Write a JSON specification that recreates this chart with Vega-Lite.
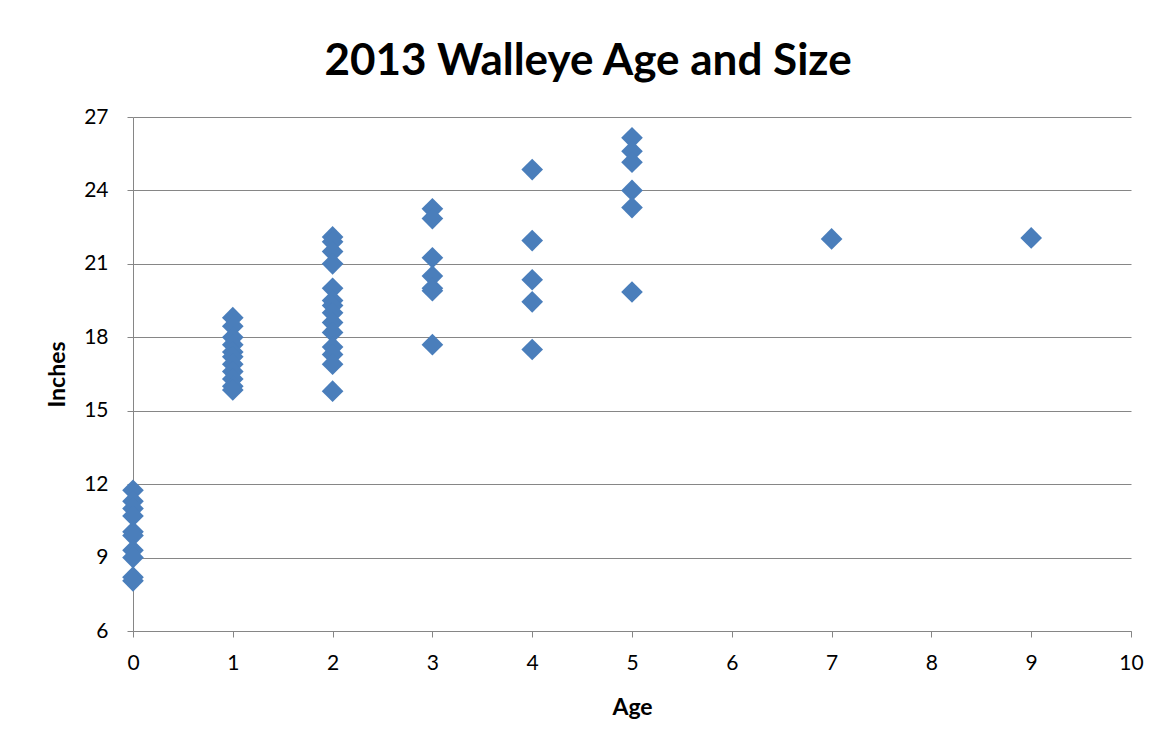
{
  "$schema": "https://vega.github.io/schema/vega-lite/v6.json",
  "width": 998,
  "height": 514,
  "autosize": {"type": "none"},
  "padding": {"left": 133, "top": 117, "right": 36, "bottom": 120},
  "background": "white",
  "title": {
    "text": "2013 Walleye Age and Size",
    "font": "Lato",
    "fontSize": 44,
    "fontWeight": "bold",
    "color": "black",
    "anchor": "middle",
    "dx": -44,
    "offset": 22
  },
  "config": {
    "view": {"stroke": null},
    "font": "Lato"
  },
  "data": {
    "values": [
      {"Age": 0, "Inches": 11.75}, {"Age": 0, "Inches": 11.3}, {"Age": 0, "Inches": 11.0}, {"Age": 0, "Inches": 10.7},
      {"Age": 0, "Inches": 10.05}, {"Age": 0, "Inches": 9.9}, {"Age": 0, "Inches": 9.3}, {"Age": 0, "Inches": 9.0},
      {"Age": 0, "Inches": 8.2}, {"Age": 0, "Inches": 8.05},
      {"Age": 1, "Inches": 18.8}, {"Age": 1, "Inches": 18.45}, {"Age": 1, "Inches": 18.0}, {"Age": 1, "Inches": 17.7},
      {"Age": 1, "Inches": 17.4}, {"Age": 1, "Inches": 17.2}, {"Age": 1, "Inches": 16.9}, {"Age": 1, "Inches": 16.6},
      {"Age": 1, "Inches": 16.3}, {"Age": 1, "Inches": 16.0}, {"Age": 1, "Inches": 15.85},
      {"Age": 2, "Inches": 22.1}, {"Age": 2, "Inches": 21.9}, {"Age": 2, "Inches": 21.5}, {"Age": 2, "Inches": 21.0},
      {"Age": 2, "Inches": 20.0}, {"Age": 2, "Inches": 19.5}, {"Age": 2, "Inches": 19.3}, {"Age": 2, "Inches": 19.0},
      {"Age": 2, "Inches": 18.6}, {"Age": 2, "Inches": 18.2}, {"Age": 2, "Inches": 17.6}, {"Age": 2, "Inches": 17.3},
      {"Age": 2, "Inches": 16.9}, {"Age": 2, "Inches": 15.8},
      {"Age": 3, "Inches": 23.25}, {"Age": 3, "Inches": 22.85}, {"Age": 3, "Inches": 21.25}, {"Age": 3, "Inches": 20.5},
      {"Age": 3, "Inches": 20.0}, {"Age": 3, "Inches": 19.9}, {"Age": 3, "Inches": 17.7},
      {"Age": 4, "Inches": 24.85}, {"Age": 4, "Inches": 21.95}, {"Age": 4, "Inches": 20.35}, {"Age": 4, "Inches": 19.45},
      {"Age": 4, "Inches": 17.5},
      {"Age": 5, "Inches": 26.15}, {"Age": 5, "Inches": 25.6}, {"Age": 5, "Inches": 25.15}, {"Age": 5, "Inches": 24.0},
      {"Age": 5, "Inches": 23.3}, {"Age": 5, "Inches": 19.85},
      {"Age": 7, "Inches": 22.02},
      {"Age": 9, "Inches": 22.06}
    ]
  },
  "mark": {"type": "point", "shape": "diamond", "filled": true, "size": 470, "color": "#4A7EBB", "opacity": 1},
  "encoding": {
    "x": {
      "field": "Age",
      "type": "quantitative",
      "scale": {"domain": [0, 10], "nice": false, "zero": false},
      "axis": {
        "title": "Age",
        "values": [0, 1, 2, 3, 4, 5, 6, 7, 8, 9, 10],
        "grid": false,
        "labelFlush": false,
        "domainColor": "#868686",
        "tickColor": "#868686",
        "tickSize": 6,
        "labelFontSize": 21,
        "labelColor": "black",
        "labelPadding": 15,
        "titleFontSize": 23,
        "titleFontWeight": "bold",
        "titleColor": "black",
        "titlePadding": 23,
        "labelFont": "Lato",
        "titleFont": "Lato"
      }
    },
    "y": {
      "field": "Inches",
      "type": "quantitative",
      "scale": {"domain": [6, 27], "nice": false, "zero": false},
      "axis": {
        "title": "Inches",
        "values": [6, 9, 12, 15, 18, 21, 24, 27],
        "grid": true,
        "labelFlush": false,
        "gridColor": "#868686",
        "gridWidth": 1,
        "domainColor": "#868686",
        "tickColor": "#868686",
        "tickSize": 6,
        "labelFontSize": 21,
        "labelColor": "black",
        "labelPadding": 19,
        "titleFontSize": 23,
        "titleFontWeight": "bold",
        "titleColor": "black",
        "titlePadding": 14,
        "labelFont": "Lato",
        "titleFont": "Lato"
      }
    }
  }
}
